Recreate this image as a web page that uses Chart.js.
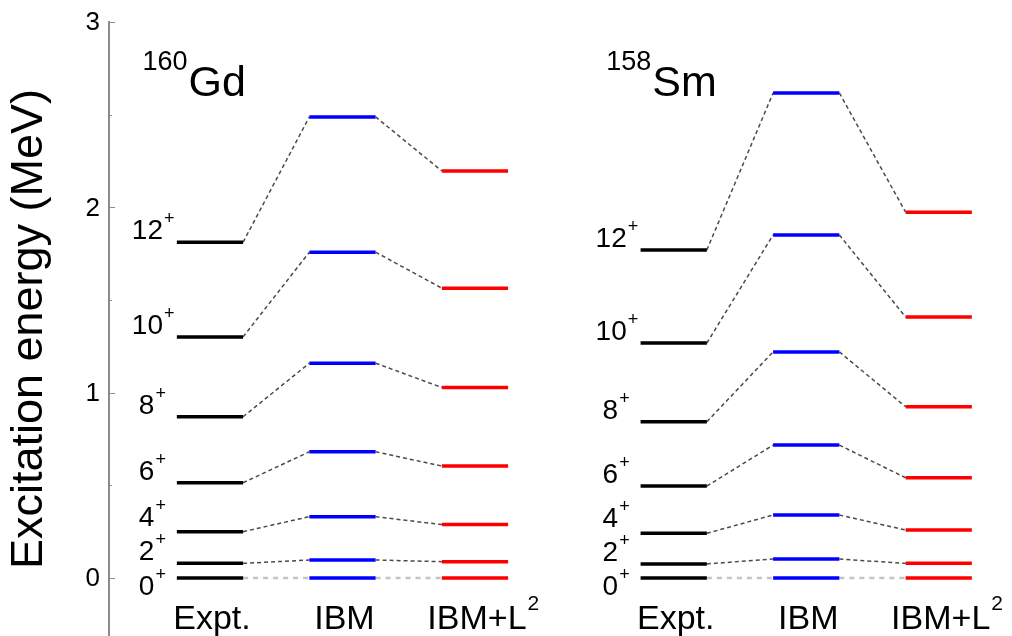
<!DOCTYPE html>
<html><head><meta charset="utf-8">
<script src="https://cdn.jsdelivr.net/npm/chart.js@4.4.1/dist/chart.umd.min.js"></script>
<style>html,body{margin:0;padding:0;background:#fff}#wrap{width:1012px;height:636px;position:relative}</style>
</head><body><div id="wrap"><canvas id="c"></canvas></div>
<script>
// ---- data ----
const spins = [0, 2, 4, 6, 8, 10, 12];
const models = ['Expt.', 'IBM', 'IBM+L'];
const modelSups = ['', '', '2'];
const nucleusMass = ['160', '158'];
const nucleusSymbol = ['Gd', 'Sm'];
const gdExpt  = [0, 0.079, 0.250, 0.514, 0.870, 1.301, 1.812];
const gdIBM   = [0, 0.097, 0.331, 0.681, 1.159, 1.758, 2.488];
const gdIBML2 = [0, 0.088, 0.288, 0.604, 1.028, 1.564, 2.196];
const smExpt  = [0, 0.076, 0.241, 0.496, 0.843, 1.268, 1.770];
const smIBM   = [0, 0.102, 0.340, 0.717, 1.220, 1.851, 2.617];
const smIBML2 = [0, 0.079, 0.259, 0.541, 0.924, 1.408, 1.974];
const yTickValues = [0, 1, 2, 3];
const yMinorTickValues = [0.5, 1.5, 2.5];
const yAxisTitle = 'Excitation energy (MeV)';

// ---- layout / style ----
const FONT = '"Liberation Sans", Arial, Helvetica, sans-serif';
const groupStart = [0, 3.5];
const groupLevels = [[gdExpt, gdIBM, gdIBML2], [smExpt, smIBM, smIBML2]];
const barColors = ['#000000', '#0000ff', '#ff0000'];
const HALF = 0.25;

const datasets = [];
groupLevels.forEach((cols, gi) => {
  cols.forEach((levels, mi) => {
    const c = groupStart[gi] + mi;
    const data = [];
    levels.forEach(e => { data.push({x: c - HALF, y: e}, {x: c + HALF, y: e}, {x: c, y: null}); });
    datasets.push({data, borderColor: barColors[mi], borderWidth: 3.5, borderCapStyle: 'butt'});
  });
});
groupLevels.forEach((cols, gi) => {
  for (let mi = 0; mi < cols.length - 1; mi++) {
    const c = groupStart[gi] + mi;
    const a = cols[mi], b = cols[mi + 1];
    const dashed = [], zero = [];
    a.forEach((e, i) => {
      const tgt = i === 0 ? zero : dashed;
      tgt.push({x: c + HALF, y: e}, {x: c + 1 - HALF, y: b[i]}, {x: c + 0.5, y: null});
    });
    datasets.push({data: dashed, borderColor: '#4a4a4a', borderWidth: 1.5, borderDash: [4, 3]});
    datasets.push({data: zero, borderColor: '#c4c4c4', borderWidth: 2.5, borderDash: [5, 5]});
  }
});
datasets.forEach(d => Object.assign(d, {showLine: true, pointRadius: 0, pointHoverRadius: 0, spanGaps: false, tension: 0, fill: false}));

function supText(ctx, x, y, main, sup, mainSize, supSize, raise, align) {
  ctx.font = mainSize + 'px ' + FONT;
  const mw = ctx.measureText(main).width;
  let x0 = x;
  if (align === 'center') x0 = x - mw / 2;
  ctx.textAlign = 'left';
  ctx.fillText(main, x0, y);
  if (sup) {
    ctx.font = supSize + 'px ' + FONT;
    ctx.fillText(sup, x0 + mw + 1, y - raise);
  }
}

const textPlugin = {
  id: 'levelText',
  afterDatasetsDraw(chart) {
    const {ctx, scales: {x, y}, chartArea} = chart;
    ctx.save();
    // y-axis tick marks (inward) and tick labels
    ctx.strokeStyle = '#8c8c8c'; ctx.lineWidth = 1;
    yTickValues.concat(yMinorTickValues).forEach(v => {
      const py = Math.round(y.getPixelForValue(v)) + 0.5;
      const len = yTickValues.includes(v) ? 6 : 3;
      ctx.beginPath(); ctx.moveTo(chartArea.left, py); ctx.lineTo(chartArea.left + len, py); ctx.stroke();
    });
    ctx.fillStyle = '#000';
    ctx.font = '26px ' + FONT; ctx.textAlign = 'right'; ctx.textBaseline = 'middle';
    yTickValues.forEach(v => ctx.fillText(String(v), chartArea.left - 9, y.getPixelForValue(v) + 1));
    ctx.textBaseline = 'alphabetic';
    groupLevels.forEach((cols, gi) => {
      const s = groupStart[gi];
      // nucleus title
      ctx.font = '27px ' + FONT;
      const tx = x.getPixelForValue(s - 0.51);
      const ty = y.getPixelForValue(2.6);
      ctx.textAlign = 'left';
      ctx.fillText(nucleusMass[gi], tx, ty - 26);
      const mw = ctx.measureText(nucleusMass[gi]).width;
      ctx.font = '43px ' + FONT;
      ctx.fillText(nucleusSymbol[gi], tx + mw + 1, ty);
      // model labels
      models.forEach((m, mi) => {
        supText(ctx, x.getPixelForValue(s + mi) + 2, y.getPixelForValue(-0.275), m, modelSups[mi], 34, 21, 19, 'center');
      });
      // spin labels
      const expt = cols[0];
      const barLeft = x.getPixelForValue(s - HALF);
      let prev = null;
      expt.forEach((e, i) => {
        const by = y.getPixelForValue(e);
        let cy;
        if (i === 0) cy = by + 7;
        else cy = Math.min(by - 13, prev - 34);
        prev = cy;
        const label = String(spins[i]);
        const lx = barLeft - (label.length > 1 ? 45 : 38);
        supText(ctx, lx, cy + 10, label, '+', 28, 18, 15, 'left');
      });
    });
    ctx.restore();
  }
};

new Chart(document.getElementById('c'), {
  type: 'scatter',
  data: {datasets},
  options: {
    responsive: true, maintainAspectRatio: false, animation: false,
    layout: {padding: {top: 22, right: 0, bottom: 0, left: 0}},
    plugins: {legend: {display: false}, tooltip: {enabled: false}},
    scales: {
      x: {type: 'linear', display: false, min: -0.762, max: 6.053},
      y: {
        type: 'linear', min: -0.313, max: 3,
        afterFit: s => { s.width = 109; },
        ticks: {display: false},
        grid: {display: false, drawTicks: false},
        border: {display: true, color: '#8c8c8c', width: 2},
        title: {display: true, text: yAxisTitle, color: '#000', font: {family: FONT, size: 45}, padding: {top: 3, bottom: 0}}
      }
    }
  },
  plugins: [textPlugin]
});
</script></body></html>
